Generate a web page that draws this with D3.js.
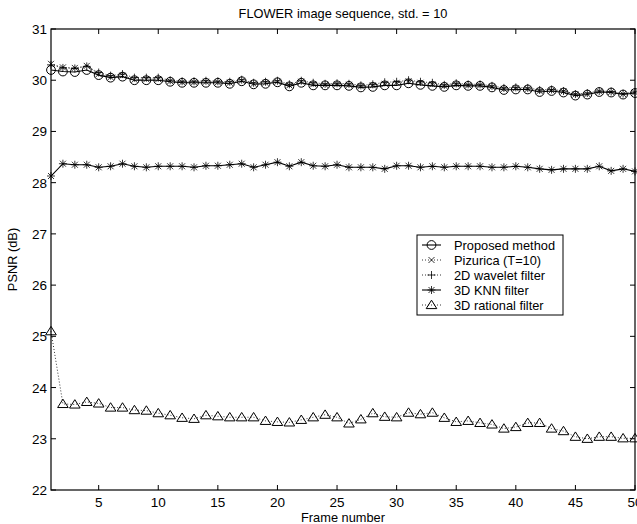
<!DOCTYPE html>
<html><head><meta charset="utf-8">
<script src="https://cdn.jsdelivr.net/npm/d3@7/dist/d3.min.js"></script>
<style>body{margin:0;background:#fff}svg{display:block}text{font-family:"Liberation Sans",Arial,sans-serif;fill:#000}</style>
</head><body><svg id="c" width="637" height="524"></svg>
<script>
const frames = d3.range(1, 51);
const proposed = [30.2,30.17,30.16,30.2,30.1,30.05,30.07,30.0,30.0,30.0,29.97,29.95,29.95,29.95,29.95,29.93,29.98,29.92,29.93,29.96,29.88,29.95,29.9,29.9,29.9,29.89,29.86,29.87,29.9,29.9,29.94,29.91,29.89,29.87,29.9,29.89,29.89,29.86,29.81,29.82,29.82,29.77,29.79,29.76,29.7,29.72,29.77,29.76,29.72,29.75];
const pizurica = [30.32,30.25,30.24,30.28,30.12,30.06,30.09,30.01,30.02,30.02,29.98,29.96,29.96,29.97,29.96,29.95,29.99,29.93,29.95,29.97,29.9,29.97,29.92,29.91,29.92,29.91,29.88,29.9,29.93,29.95,29.98,29.95,29.92,29.89,29.92,29.9,29.9,29.87,29.83,29.84,29.83,29.79,29.8,29.78,29.72,29.73,29.78,29.77,29.73,29.76];
const wavelet = [30.3,30.24,30.23,30.27,30.15,30.09,30.12,30.05,30.05,30.05,30.0,29.98,29.98,29.99,29.98,29.97,30.01,29.95,29.97,29.99,29.92,29.99,29.95,29.93,29.94,29.93,29.9,29.92,29.96,29.97,30.0,29.97,29.95,29.91,29.94,29.92,29.92,29.89,29.85,29.86,29.85,29.81,29.82,29.79,29.73,29.75,29.79,29.78,29.74,29.77];
const knn = [28.13,28.37,28.35,28.35,28.3,28.32,28.37,28.32,28.3,28.32,28.32,28.32,28.3,28.33,28.33,28.35,28.37,28.3,28.35,28.4,28.32,28.4,28.33,28.32,28.35,28.3,28.3,28.3,28.27,28.33,28.33,28.3,28.32,28.3,28.32,28.32,28.32,28.3,28.3,28.32,28.3,28.27,28.25,28.27,28.27,28.27,28.32,28.23,28.27,28.22];
const rational = [25.1,23.68,23.67,23.72,23.69,23.61,23.61,23.56,23.55,23.5,23.46,23.41,23.39,23.46,23.44,23.42,23.42,23.42,23.35,23.33,23.32,23.37,23.42,23.47,23.42,23.3,23.38,23.5,23.43,23.42,23.51,23.48,23.51,23.41,23.33,23.35,23.31,23.28,23.2,23.23,23.31,23.31,23.2,23.15,23.04,23.0,23.04,23.04,23.01,23.01];
const seriesNames = ["Proposed method","Pizurica (T=10)","2D wavelet filter","3D KNN filter","3D rational filter"];
const xTicks = [5,10,15,20,25,30,35,40,45,50];
const yTicks = [22,23,24,25,26,27,28,29,30,31];

const series = [
  {name: seriesNames[0], values: proposed, dash: null, marker: "circle"},
  {name: seriesNames[1], values: pizurica, dash: "1,2", marker: "x"},
  {name: seriesNames[2], values: wavelet, dash: "1,2", marker: "plus"},
  {name: seriesNames[3], values: knn, dash: null, marker: "star"},
  {name: seriesNames[4], values: rational, dash: "1,2", marker: "tri"}
];

const L = 51, R = 635, T = 29, B = 490;
const svg = d3.select("#c");
const x = d3.scaleLinear().domain([1, 50]).range([L, R]);
const y = d3.scaleLinear().domain([22, 31]).range([B, T]);

function drawMarker(g, type, cx, cy) {
  const s = 4;
  if (type === "circle") {
    g.append("circle").attr("cx", cx).attr("cy", cy).attr("r", 4.4).attr("fill", "none").attr("stroke", "#000").attr("stroke-width", 1);
  } else if (type === "x") {
    g.append("path").attr("d", `M${cx-3},${cy-3}L${cx+3},${cy+3}M${cx-3},${cy+3}L${cx+3},${cy-3}`).attr("stroke", "#000").attr("stroke-width", 0.8);
  } else if (type === "plus") {
    g.append("path").attr("d", `M${cx-s},${cy}L${cx+s},${cy}M${cx},${cy-s}L${cx},${cy+s}`).attr("stroke", "#000").attr("stroke-width", 0.8);
  } else if (type === "star") {
    g.append("path").attr("d", `M${cx-s},${cy}L${cx+s},${cy}M${cx},${cy-s}L${cx},${cy+s}M${cx-3},${cy-3}L${cx+3},${cy+3}M${cx-3},${cy+3}L${cx+3},${cy-3}`).attr("stroke", "#000").attr("stroke-width", 0.8);
  } else if (type === "tri") {
    g.append("path").attr("d", `M${cx},${cy-4.8}L${cx+5.3},${cy+3.6}L${cx-5.3},${cy+3.6}Z`).attr("fill", "none").attr("stroke", "#000").attr("stroke-width", 1);
  }
}

svg.append("rect").attr("x", L).attr("y", T).attr("width", R - L).attr("height", B - T).attr("fill", "#fff").attr("stroke", "#000").attr("stroke-width", 1.2);

const axG = svg.append("g");
xTicks.forEach(t => {
  axG.append("line").attr("x1", x(t)).attr("x2", x(t)).attr("y1", B).attr("y2", B - 5).attr("stroke", "#000");
  axG.append("line").attr("x1", x(t)).attr("x2", x(t)).attr("y1", T).attr("y2", T + 5).attr("stroke", "#000");
  axG.append("text").attr("x", x(t)).attr("y", 507).attr("text-anchor", "middle").attr("font-size", 13.5).text(t);
});
yTicks.forEach(t => {
  axG.append("line").attr("x1", L).attr("x2", L + 5).attr("y1", y(t)).attr("y2", y(t)).attr("stroke", "#000");
  axG.append("line").attr("x1", R).attr("x2", R - 5).attr("y1", y(t)).attr("y2", y(t)).attr("stroke", "#000");
  axG.append("text").attr("x", 47).attr("y", y(t) + 5).attr("text-anchor", "end").attr("font-size", 13.5).text(t);
});

const line = d3.line().x((d, i) => x(frames[i])).y(d => y(d));
const dataG = svg.append("g");
series.slice().reverse().forEach(s => {
  dataG.append("path").attr("d", line(s.values)).attr("fill", "none").attr("stroke", "#000")
    .attr("stroke-width", s.dash ? 0.8 : 1.1).attr("stroke-dasharray", s.dash);
  const mg = dataG.append("g");
  s.values.forEach((v, i) => drawMarker(mg, s.marker, x(frames[i]), y(v)));
});

svg.append("text").attr("x", (L + R) / 2).attr("y", 18).attr("text-anchor", "middle").attr("font-size", 12.8).text("FLOWER image sequence, std. = 10");
svg.append("text").attr("x", (L + R) / 2).attr("y", 522).attr("text-anchor", "middle").attr("font-size", 12.8).text("Frame number");
svg.append("text").attr("transform", `translate(17,${(T + B) / 2}) rotate(-90)`).attr("text-anchor", "middle").attr("font-size", 12.8).text("PSNR (dB)");

const lg = svg.append("g");
lg.append("rect").attr("x", 417).attr("y", 235).attr("width", 146).attr("height", 80).attr("fill", "#fff").attr("stroke", "#000").attr("stroke-width", 1);
series.forEach((s, i) => {
  const ly = 245 + i * 15;
  lg.append("line").attr("x1", 422).attr("x2", 441).attr("y1", ly).attr("y2", ly).attr("stroke", "#000")
    .attr("stroke-width", s.dash ? 0.8 : 1.1).attr("stroke-dasharray", s.dash);
  drawMarker(lg, s.marker, 431.5, ly);
  lg.append("text").attr("x", 454).attr("y", ly + 4.5).attr("font-size", 12.8).text(s.name);
});
</script></body></html>
